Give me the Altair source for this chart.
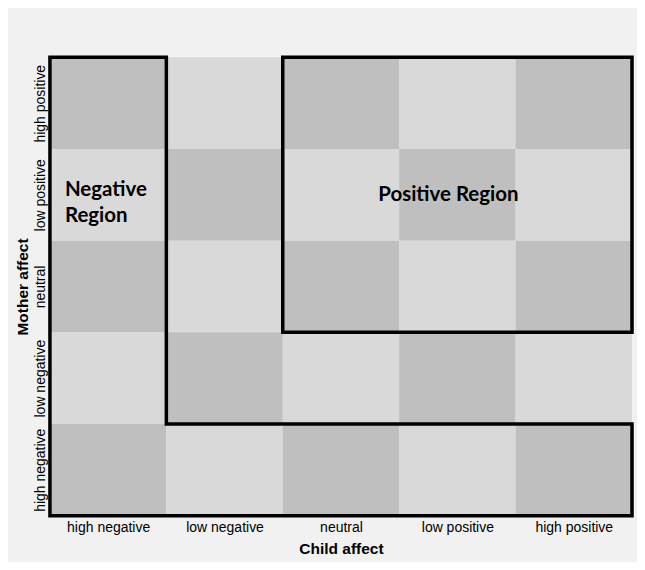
import json
import altair as alt
import pandas as pd

# Category levels (x: child, y: mother, listed from low to high)
child_levels = ["high negative", "low negative", "neutral", "low positive", "high positive"]
mother_levels = ["high negative", "low negative", "neutral", "low positive", "high positive"]

# Cell shades, rows listed from top (high positive) to bottom (high negative)
shade_rows = [
    ["dark", "light", "dark", "light", "dark"],
    ["light", "dark", "light", "dark", "light"],
    ["dark", "light", "dark", "light", "dark"],
    ["light", "dark", "light", "dark", "light"],
    ["dark", "light", "dark", "light", "dark"],
]
shade_names = ["dark", "light"]
shade_colors = ["#bfbfbf", "#d9d9d9"]

# Region definitions (grid boundaries in category units)
neg_outline_x = [0, 0, 1, 1, 5, 5, 0]
neg_outline_y = [0, 5, 5, 1, 1, 0, 0]
pos_box = {"x0": 2, "x1": 5, "y0": 2, "y1": 5}

region_labels = ["Negative Region", "Positive Region"]

# ---- build tables ----
cells = []
n = len(mother_levels)
for r, row in enumerate(shade_rows):
    for c, s in enumerate(row):
        yi = n - 1 - r
        cells.append({"child": child_levels[c], "mother": mother_levels[yi],
                      "x0": c, "x1": c + 1, "y0": yi, "y1": yi + 1, "shade": s})
cells_df = pd.DataFrame(cells)

neg_df = pd.DataFrame({"x": neg_outline_x, "y": neg_outline_y,
                       "order": list(range(len(neg_outline_x)))})
pos_df = pd.DataFrame([pos_box])

ticks = [i + 0.5 for i in range(len(child_levels))]
x_expr = json.dumps(child_levels) + "[floor(datum.value)]"
y_expr = json.dumps(mother_levels) + "[floor(datum.value)]"

xscale = alt.Scale(domain=[0, 5], nice=False, zero=False)
yscale = alt.Scale(domain=[0, 5], nice=False, zero=False)

FONT = "Liberation Sans"

xaxis = alt.Axis(values=ticks, labelExpr=x_expr, domain=False, ticks=False, grid=False,
                 labelFont=FONT, labelFontSize=14, labelColor="black", labelPadding=5,
                 title="Child affect", titleFont=FONT, titleFontSize=15.5,
                 titleFontWeight="bold", titleColor="black", titlePadding=7)
yaxis = alt.Axis(values=ticks, labelExpr=y_expr, domain=False, ticks=False, grid=False,
                 labelFont=FONT, labelFontSize=14, labelColor="black", labelPadding=2,
                 labelAngle=270, labelAlign="center", labelBaseline="bottom",
                 title="Mother affect", titleFont=FONT, titleFontSize=15.5,
                 titleFontWeight="bold", titleColor="black", titlePadding=3)

base_cells = alt.Chart(cells_df).mark_rect(strokeWidth=0).encode(
    x=alt.X("x0:Q", scale=xscale, axis=xaxis),
    x2="x1:Q",
    y=alt.Y("y0:Q", scale=yscale, axis=yaxis),
    y2="y1:Q",
    color=alt.Color("shade:N", scale=alt.Scale(domain=shade_names, range=shade_colors),
                    legend=None),
)

neg_line = alt.Chart(neg_df).mark_line(color="black", strokeWidth=3.5,
                                       strokeJoin="miter", strokeCap="square").encode(
    x=alt.X("x:Q", scale=xscale, axis=xaxis),
    y=alt.Y("y:Q", scale=yscale, axis=yaxis),
    order="order:Q",
)

pos_rect = alt.Chart(pos_df).mark_rect(fill=None, stroke="black", strokeWidth=3.5,
                                       strokeJoin="miter").encode(
    x=alt.X("x0:Q", scale=xscale, axis=xaxis),
    x2="x1:Q",
    y=alt.Y("y0:Q", scale=yscale, axis=yaxis),
    y2="y1:Q",
)

neg_text_df = pd.DataFrame({"x": [0], "y": [3.5], "label": [region_labels[0].split(" ")]})
neg_text = alt.Chart(neg_text_df).mark_text(
    font="Lato", fontWeight="bold", fontSize=20.5, align="left", baseline="middle",
    dx=15, dy=-5, lineHeight=26, color="#000000").encode(
    x=alt.X("x:Q", scale=xscale, axis=xaxis),
    y=alt.Y("y:Q", scale=yscale, axis=yaxis),
    text="label",
)

pos_text_df = pd.DataFrame({"x": [3.5], "y": [3.5], "label": [region_labels[1]]})
pos_text = alt.Chart(pos_text_df).mark_text(
    font="Lato", fontWeight="bold", fontSize=20.5, align="center", baseline="middle",
    dx=-9, dy=0, color="#000000").encode(
    x=alt.X("x:Q", scale=xscale, axis=xaxis),
    y=alt.Y("y:Q", scale=yscale, axis=yaxis),
    text="label:N",
)

chart = alt.layer(base_cells, pos_rect, neg_line, neg_text, pos_text).properties(
    width=583, height=459,
    autosize=alt.AutoSizeParams(type="none"),
    padding={"left": 42, "top": 49, "right": 5, "bottom": 46},
    background="#f1f1f1",
).configure_view(stroke=None)

chart.save("out.html", embed_options={"renderer": "svg", "actions": False})
